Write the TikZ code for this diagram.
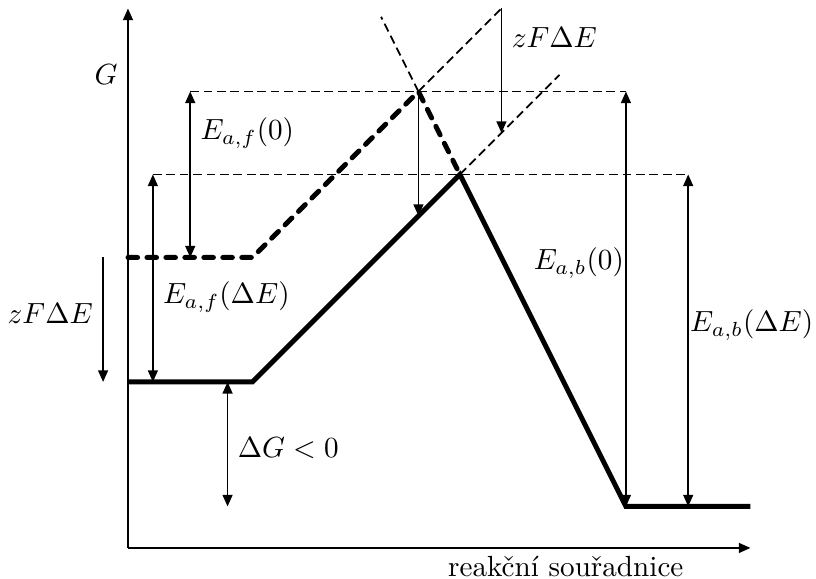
\documentclass[tikz,border=0pt]{standalone}
\usepackage{amsmath}
\usetikzlibrary{arrows.meta}

\begin{document}
\begin{tikzpicture}[
    x=0.5cm, y=0.5cm,
    axisline/.style={semithick, -{Triangle[length=4pt,width=3.4pt]}},
    dimarrow/.style={semithick, {Triangle[length=4pt,width=3.4pt]}-{Triangle[length=4pt,width=3.4pt]}},
    droparrow/.style={semithick, -{Triangle[length=4pt,width=3.4pt]}},
    guide/.style={semithick, dash pattern=on 3pt off 1.6pt},
    profile/.style={line width=1.7pt, line join=miter},
    profileE/.style={line width=1.7pt, line cap=round, dash pattern=on 3.3pt off 3.2pt}
]
\useasboundingbox (-3.084,-0.747) rectangle (16.58,13.205);

% axes
\coordinate (O) at (0,0);
\coordinate (ytop) at (0,13);
\coordinate (xend) at (15,0);
\draw[axisline] (O) -- (ytop);
\draw[axisline] (O) -- (xend);

% energy profile without and with potential
\coordinate (A0) at (0,4);
\coordinate (A1) at (3,4);
\coordinate (TS) at (8,9);
\coordinate (B0) at (12,1);
\coordinate (B1) at (15,1);
\coordinate (C0) at (0,7);
\coordinate (C1) at (3,7);
\coordinate (TS0) at (7,11);

% helper points
\coordinate (ext1) at (6.1,12.8);
\coordinate (ext2) at (9,13);
\coordinate (ext3) at (10.4,11.4);
\coordinate (onext) at (9,10);
\coordinate (onramp) at (7,8);
\coordinate (af0a) at (1.5,7);
\coordinate (af0b) at (1.5,11);
\coordinate (afEa) at (0.6,4);
\coordinate (afEb) at (0.6,9);
\coordinate (zfa) at (-0.6,7);
\coordinate (zfb) at (-0.6,4);
\coordinate (dga) at (2.4,4);
\coordinate (dgb) at (2.4,1);
\coordinate (ab0a) at (12,1);
\coordinate (ab0b) at (12,11);
\coordinate (abEa) at (13.5,1);
\coordinate (abEb) at (13.5,9);

% guide lines
\draw[guide] (af0b) -- (ab0b);
\draw[guide] (afEb) -- (abEb);
\draw[guide] (TS0) -- (ext1);
\draw[guide] (TS0) -- (ext2);
\draw[guide] (TS) -- (ext3);

\draw[profile] (A0) -- (A1) -- (TS) -- (B0) -- (B1);
\draw[profileE] (C0) -- (C1) -- (TS0) -- (TS);

% dimensions
\draw[dimarrow] (af0a) -- (af0b);
\draw[dimarrow] (afEa) -- (afEb);
\draw[dimarrow] (dga) -- (dgb);
\draw[dimarrow] (ab0a) -- (ab0b);
\draw[dimarrow] (abEa) -- (abEb);
\draw[droparrow] (zfa) -- (zfb);
\draw[droparrow] (TS0) -- (onramp);
\draw[droparrow] (ext2) -- (onext);

% labels
\node[left] (Glab) at (0,11.4) {$G$};
\node[right] (laf0) at (1.5,10) {$E_{a,f}(0)$};
\node[right] (lafE) at (0.6,6.05) {$E_{a,f}(\Delta E)$};
\node[left] (lzf) at (-0.6,5.66) {$zF\Delta E$};
\node[right] (ldg) at (2.4,2.41) {$\Delta G<0$};
\node[right] (lzft) at (9,12.3) {$zF\Delta E$};
\node[left, inner sep=0.5pt] (lab0) at (12,6.87) {$E_{a,b}(0)$};
\node[right, inner sep=0.5pt] (labE) at (13.5,5.37) {$E_{a,b}(\Delta E)$};
\node (lx) at (10.55,-0.45) {reakční souřadnice};
\end{tikzpicture}
\end{document}
